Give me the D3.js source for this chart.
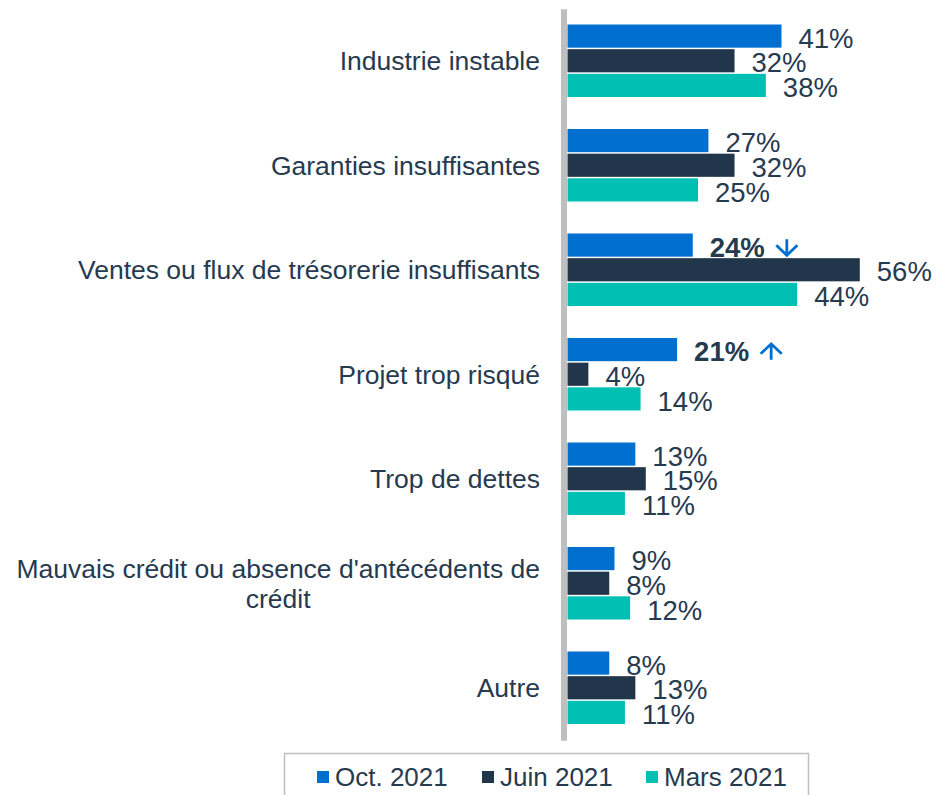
<!DOCTYPE html>
<html>
<head>
<meta charset="utf-8">
<script src="https://cdn.jsdelivr.net/npm/d3@7"></script>
<style>
  body { margin: 0; background: #fff; }
  svg { display: block; font-family: "Liberation Sans", Arial, sans-serif; }
  .cat { fill: #263a50; font-size: 26.5px; }
  .val { fill: #263a50; font-size: 27.5px; }
  .leg { fill: #263a50; font-size: 26px; }
</style>
</head>
<body>
<svg width="938" height="795"></svg>
<script>
// categories and series (percent)
var categories = [
  "Industrie instable",
  "Garanties insuffisantes",
  "Ventes ou flux de trésorerie insuffisants",
  "Projet trop risqué",
  "Trop de dettes",
  "Mauvais crédit ou absence d'antécédents de crédit",
  "Autre"
];
var seriesNames = ["Oct. 2021", "Juin 2021", "Mars 2021"];
var oct2021  = [41, 27, 24, 21, 13, 9, 8];
var juin2021 = [32, 32, 56, 4, 15, 8, 13];
var mars2021 = [38, 25, 44, 14, 11, 12, 11];
// change flag shown next to the Oct. 2021 label
var octChange = [null, null, "down", "up", null, null, null];

var colors = ["#006fcf", "#22364b", "#00bfb3"];

var svg = d3.select("svg");

var data = categories.map(function(c, i) {
  return {cat: c, values: [oct2021[i], juin2021[i], mars2021[i]], change: octChange[i]};
});

// scales
var x = d3.scaleLinear().domain([0, 56]).range([567.5, 859.8]);
var y0 = d3.scaleBand().domain(categories).range([8.75, 740.25])
    .paddingInner(0.292).paddingOuter(0.146);
var y1 = d3.scaleBand().domain(seriesNames).range([0, y0.bandwidth()]);

// vertical axis line
svg.append("g")
    .attr("transform", "translate(" + (x(0) - 4) + ",0)")
    .call(d3.axisLeft(y0).tickSize(0).tickFormat(""))
    .call(function(g) {
      g.select(".domain").attr("stroke", "#bfbfbf").attr("stroke-width", 6);
    });

// bars
var groups = svg.append("g").selectAll("g")
    .data(data).enter().append("g")
    .attr("transform", function(d) { return "translate(0," + y0(d.cat) + ")"; });

groups.selectAll("rect")
    .data(function(d) { return d.values.map(function(v, j) { return {name: seriesNames[j], v: v, j: j}; }); })
    .enter().append("rect")
    .attr("x", x(0))
    .attr("y", function(d) { return y1(d.name) + 0.5; })
    .attr("width", function(d) { return x(d.v) - x(0); })
    .attr("height", y1.bandwidth() - 1.5)
    .attr("fill", function(d) { return colors[d.j]; });

// value labels
groups.selectAll("text.val")
    .data(function(d) { return d.values.map(function(v, j) { return {name: seriesNames[j], v: v, j: j, change: j === 0 ? d.change : null}; }); })
    .enter().append("text")
    .attr("class", "val")
    .attr("x", function(d) { return x(d.v) + 17; })
    .attr("y", function(d) { return y1(d.name) + y1.bandwidth() / 2 + 11.5; })
    .style("font-weight", function(d) { return d.change ? "bold" : null; })
    .text(function(d) { return d.v + "%"; })
    .each(function(d) {
      if (!d.change) return;
      var w = this.getComputedTextLength();
      var ax = x(d.v) + 17 + w + 22;
      var cy = y1(d.name) + y1.bandwidth() / 2 + 2;
      var h = 8, a = 10.5, b = 2;
      var p;
      if (d.change === "down") {
        p = "M" + ax + "," + (cy - h) + "V" + (cy + h) +
            "M" + (ax - a) + "," + (cy - b) + "L" + ax + "," + (cy + h) + "L" + (ax + a) + "," + (cy - b);
      } else {
        p = "M" + ax + "," + (cy + h) + "V" + (cy - h) +
            "M" + (ax - a) + "," + (cy + b) + "L" + ax + "," + (cy - h) + "L" + (ax + a) + "," + (cy + b);
      }
      d3.select(this.parentNode).append("path")
        .attr("d", p)
        .attr("fill", "none")
        .attr("stroke", colors[0])
        .attr("stroke-width", 2.8);
    });

// category labels (wrapped, centred lines, block right-aligned)
var labelRight = 540, maxW = 535, lineH = 30;
svg.append("g").selectAll("text")
    .data(categories).enter().append("text")
    .attr("class", "cat")
    .each(function(c) {
      var t = d3.select(this);
      var words = c.split(" "), lines = [], line = [];
      var probe = t.append("tspan");
      words.forEach(function(w) {
        line.push(w);
        probe.text(line.join(" "));
        if (probe.node().getComputedTextLength() > maxW && line.length > 1) {
          line.pop();
          lines.push(line.join(" "));
          line = [w];
        }
      });
      lines.push(line.join(" "));
      probe.remove();
      var widths = lines.map(function(l) {
        var s = t.append("tspan").text(l);
        var w = s.node().getComputedTextLength();
        s.remove();
        return w;
      });
      var blockW = d3.max(widths);
      var cy = y0(c) + y0.bandwidth() / 2;
      var top = cy - (lines.length - 1) * lineH / 2 + 9;
      t.attr("text-anchor", lines.length > 1 ? "middle" : "end");
      lines.forEach(function(l, k) {
        t.append("tspan")
          .attr("x", lines.length > 1 ? labelRight - blockW / 2 : labelRight)
          .attr("y", top + k * lineH)
          .text(l);
      });
    });

// legend
var legend = svg.append("g");
legend.append("rect")
    .attr("x", 284.5).attr("y", 753.5)
    .attr("width", 524).attr("height", 60)
    .attr("fill", "none").attr("stroke", "#bfbfbf").attr("stroke-width", 1.5);

var legX = [317, 482, 646];
seriesNames.forEach(function(n, i) {
  legend.append("rect")
    .attr("x", legX[i]).attr("y", 771)
    .attr("width", 12).attr("height", 12)
    .attr("fill", colors[i]);
  legend.append("text")
    .attr("class", "leg")
    .attr("x", legX[i] + 18).attr("y", 786)
    .text(n);
});
</script>
</body>
</html>
